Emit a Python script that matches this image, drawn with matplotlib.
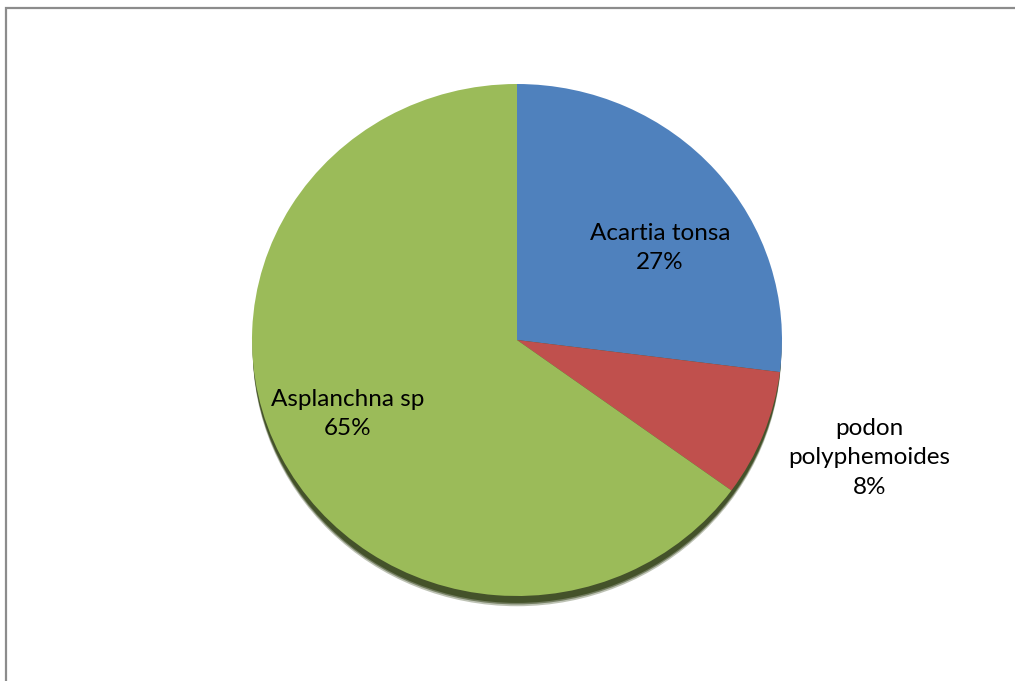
import matplotlib.pyplot as plt
from matplotlib.patches import Ellipse, Rectangle

species = ["Acartia tonsa", "podon\npolyphemoides", "Asplanchna sp"]
shares = [27, 8, 65]
colors = ["#4f81bd", "#c0504d", "#9bbb59"]

# where each label block sits (axes fraction of the pie box)
label_pos = [(0.77, 0.68), (1.165, 0.27), (0.18, 0.355)]

W, H = 1015, 681
fig = plt.figure(figsize=(W / 100, H / 100), dpi=100)
fig.patch.set_facecolor("white")

# chart area border, left/top only visible
fig.patches.append(Rectangle((6 / W, -0.1), 1.2, (1 - 8 / H) + 0.1,
                             transform=fig.transFigure, fill=False,
                             edgecolor="#8c8c8c", linewidth=1.6))

cx, cy, rx, ry = 517, 340, 265, 256
ax = fig.add_axes([(cx - rx) / W, (H - cy - ry) / H, 2 * rx / W, 2 * ry / H])

# drop shadow under the pie
for off, a in [(0.040, 0.35), (0.033, 0.6), (0.027, 1.0)]:
    ax.add_patch(Ellipse((0.0, -off), 1.995, 2.0, facecolor="#44522a",
                         edgecolor="none", alpha=a, zorder=0, clip_on=False))

wedges, _ = ax.pie(shares, colors=colors, startangle=90, counterclock=False,
                   radius=1, wedgeprops=dict(linewidth=0))
for w in wedges:
    w.set_zorder(2)
    w.set_clip_on(False)

ax.set_aspect("auto")
ax.set_xlim(-1, 1)
ax.set_ylim(-1, 1)
ax.axis("off")

for name, pct, (x, y) in zip(species, shares, label_pos):
    ax.text(x, y, f"{name}\n{pct}%", transform=ax.transAxes, ha="center",
            va="center", fontsize=17.5, family="Lato", color="black",
            linespacing=1.5, zorder=5)

fig.savefig("out.png", dpi=100)
